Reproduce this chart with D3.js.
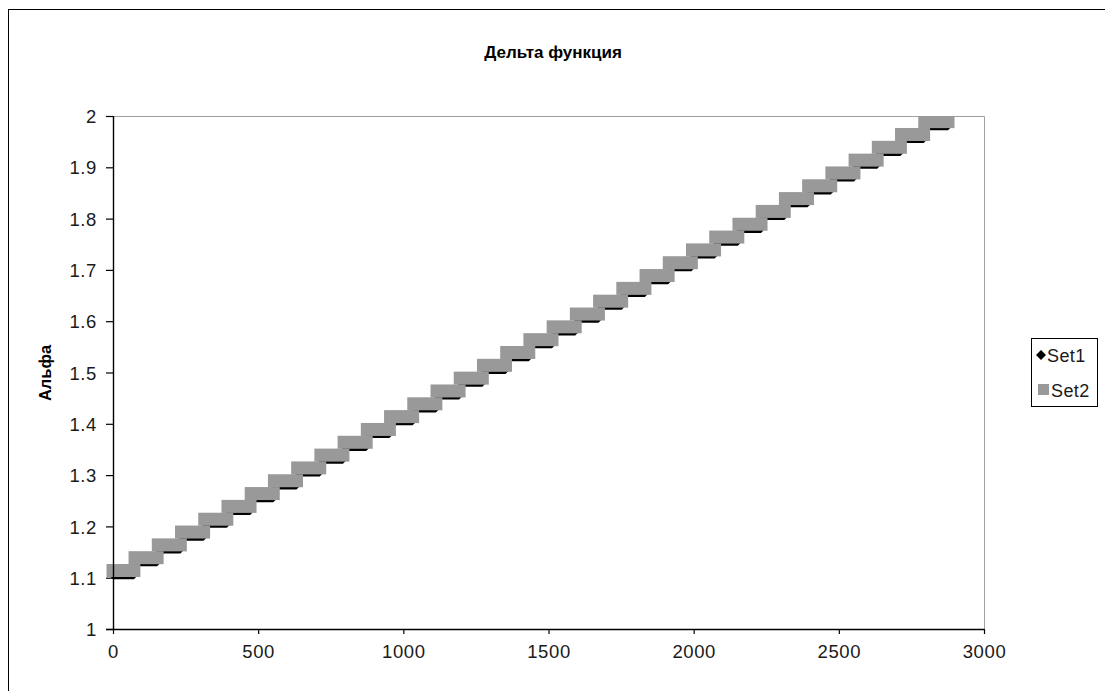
<!DOCTYPE html>
<html>
<head>
<meta charset="utf-8">
<script src="https://cdn.jsdelivr.net/npm/d3@7"></script>
<style>
  html, body { margin: 0; padding: 0; background: #fff; }
  svg { display: block; font-family: "Liberation Sans", Arial, sans-serif; }
</style>
</head>
<body>
<svg id="chart" width="1105" height="691"></svg>
<script>
// ── Data ─────────────────────────────────────────────────────────────────────

const title = "Дельта функция";
const yTitle = "Альфа";
const seriesNames = ["Set1", "Set2"];

// each stair step: first x, last x
const stepStart = [0, 76, 156, 236, 316, 396, 476, 556, 636, 716, 796, 876, 956, 1036, 1116, 1196, 1276, 1356,
  1436, 1516, 1596, 1676, 1756, 1836, 1916, 1996, 2076, 2156, 2236, 2316, 2396, 2476, 2556, 2636, 2716, 2796];
const stepEnd = [72, 152, 232, 312, 392, 472, 552, 632, 712, 792, 872, 952, 1032, 1112, 1192, 1272, 1352, 1432,
  1512, 1592, 1672, 1752, 1832, 1912, 1992, 2072, 2152, 2232, 2312, 2392, 2472, 2552, 2632, 2712, 2792, 2876];

const set1Levels = [1.102, 1.127, 1.152, 1.177, 1.202, 1.227, 1.252, 1.277, 1.302, 1.327, 1.352, 1.377,
  1.402, 1.427, 1.452, 1.477, 1.502, 1.527, 1.552, 1.577, 1.602, 1.627, 1.652, 1.677,
  1.702, 1.727, 1.752, 1.777, 1.802, 1.827, 1.852, 1.877, 1.902, 1.927, 1.952, 1.977];
const set2Levels = [1.114, 1.139, 1.164, 1.189, 1.214, 1.239, 1.264, 1.289, 1.314, 1.339, 1.364, 1.389,
  1.414, 1.439, 1.464, 1.489, 1.514, 1.539, 1.564, 1.589, 1.614, 1.639, 1.664, 1.689,
  1.714, 1.739, 1.764, 1.789, 1.814, 1.839, 1.864, 1.889, 1.914, 1.939, 1.964, 1.989];

const xTicks = [0, 500, 1000, 1500, 2000, 2500, 3000];
const yTicks = [1, 1.1, 1.2, 1.3, 1.4, 1.5, 1.6, 1.7, 1.8, 1.9, 2];

// ── Layout ───────────────────────────────────────────────────────────────────

const plot = { left: 113, top: 116, right: 984, bottom: 629 };
const SQ = 13;  // Set2 square marker
const DM = 5;   // Set1 diamond marker
const GRAY = "#999999";
const FONT = "'Liberation Sans', Arial, sans-serif";

const svg = d3.select("#chart");

const x = d3.scaleLinear().domain([0, 3000]).range([plot.left, plot.right]);
const y = d3.scaleLinear().domain([1, 2]).range([plot.bottom, plot.top]);

// outer chart frame (continues past the picture edge)
svg.append("rect")
  .attr("x", 8.5).attr("y", 9.5).attr("width", 1200).attr("height", 800)
  .attr("fill", "none").attr("stroke", "#000");

// title
svg.append("text")
  .attr("x", 553).attr("y", 58)
  .attr("text-anchor", "middle")
  .attr("font-size", 17).attr("font-weight", "bold")
  .text(title);

// y title
svg.append("text")
  .attr("transform", "translate(51,373) rotate(-90)")
  .attr("text-anchor", "middle")
  .attr("font-size", 16.5).attr("font-weight", "bold")
  .text(yTitle);

// plot frame: gray top/right
svg.append("path")
  .attr("d", `M${plot.left},${plot.top + 0.5}H${plot.right + 0.5}V${plot.bottom}`)
  .attr("fill", "none").attr("stroke", "#a0a0a0");

// ── Series ───────────────────────────────────────────────────────────────────

const steps = stepStart.map((s, i) => ({ x0: s, x1: stepEnd[i], y1: set1Levels[i], y2: set2Levels[i] }));

svg.append("clipPath").attr("id", "plot-clip")
  .append("rect")
  .attr("x", plot.left - 8).attr("y", plot.top)
  .attr("width", plot.right - plot.left + 16).attr("height", plot.bottom - plot.top + 8);

const marks = svg.append("g").attr("clip-path", "url(#plot-clip)");

// Set1: run of small diamonds -> tapered bar
marks.append("g").selectAll("path")
  .data(steps)
  .join("path")
  .attr("fill", "#000")
  .attr("d", (d) => {
    const a = x(d.x0), b = x(d.x1), c = y(d.y1), h = DM / 2;
    return `M${a - h},${c}L${a},${c - h}H${b}L${b + h},${c}L${b},${c + h}H${a}Z`;
  });

// Set2: run of gray squares -> band
marks.append("g").selectAll("rect")
  .data(steps)
  .join("rect")
  .attr("fill", GRAY)
  .attr("x", (d) => x(d.x0) - SQ / 2)
  .attr("y", (d) => y(d.y2) - SQ / 2)
  .attr("width", (d) => x(d.x1) - x(d.x0) + SQ)
  .attr("height", SQ);

// ── Axes ─────────────────────────────────────────────────────────────────────

const xAxis = svg.append("g")
  .attr("transform", `translate(0,${plot.bottom})`)
  .call(d3.axisBottom(x).tickValues(xTicks).tickSize(5).tickPadding(11).tickFormat(d3.format("d")));

const yAxis = svg.append("g")
  .attr("transform", `translate(${plot.left},0)`)
  .call(d3.axisLeft(y).tickValues(yTicks).tickSize(7).tickPadding(9).tickFormat((d) => d3.format("")(d)));

[xAxis, yAxis].forEach((g) => {
  g.select(".domain").attr("stroke", "#000").attr("stroke-width", 1.4);
  g.selectAll(".tick line").attr("stroke", "#000").attr("stroke-width", 1.2);
  g.selectAll("text")
    .attr("font-size", 18.5).attr("fill", "#1a1a1a")
    .attr("letter-spacing", 0.6)
    .attr("font-family", FONT);
});
yAxis.select(".domain").attr("d", `M0.5,${plot.top}V${plot.bottom}`);
xAxis.select(".domain").attr("d", `M${plot.left - 7},0.5H${plot.right}`);
yAxis.selectAll(".tick text").attr("dy", "0.36em");

// ── Legend ───────────────────────────────────────────────────────────────────

const legend = svg.append("g").attr("transform", "translate(1031,338)");
legend.append("rect")
  .attr("x", 0.5).attr("y", 0.5).attr("width", 66).attr("height", 68)
  .attr("fill", "#fff").attr("stroke", "#000");

legend.append("path")
  .attr("d", "M5,17L10,12L15,17L10,22Z")
  .attr("fill", "#000");
legend.append("rect")
  .attr("x", 7).attr("y", 46).attr("width", 11).attr("height", 11)
  .attr("fill", GRAY);

legend.selectAll("text")
  .data(seriesNames)
  .join("text")
  .attr("x", (d, i) => (i === 0 ? 16 : 20))
  .attr("y", (d, i) => 24 + i * 35)
  .attr("font-size", 18)
  .attr("letter-spacing", 0.4)
  .attr("fill", "#1a1a1a")
  .text((d) => d);
</script>
</body>
</html>
